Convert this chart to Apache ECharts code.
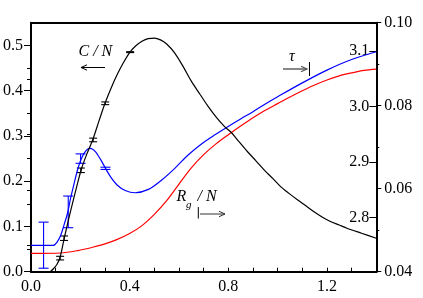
<!DOCTYPE html>
<html>
<head>
<meta charset="utf-8">
<script src="https://cdn.jsdelivr.net/npm/echarts@6/dist/echarts.min.js"></script>
<style>
html,body{margin:0;padding:0;background:#fff;}
#chart{width:423px;height:298px;}
</style>
</head>
<body>
<div id="chart"></div>
<script>
// ---- data ----
const cnX = [0.078,0.09,0.105,0.118,0.134,0.15,0.17,0.19,0.205,0.225,0.25,0.275,0.30,0.325,0.35,0.375,0.40,0.425,0.45,0.475,0.50,0.525,0.55,0.583,0.617,0.65,0.685,0.718,0.75,0.784,0.811,0.845,0.878,0.912,0.945,0.98,1.012,1.046,1.08,1.113,1.146,1.18,1.214,1.25,1.281,1.34,1.40];
const cnY = [0.0,0.006,0.016,0.032,0.072,0.11,0.155,0.198,0.228,0.258,0.291,0.332,0.372,0.406,0.436,0.462,0.484,0.499,0.509,0.515,0.516,0.512,0.503,0.483,0.453,0.421,0.392,0.365,0.342,0.321,0.308,0.286,0.265,0.245,0.225,0.206,0.188,0.173,0.159,0.146,0.133,0.121,0.111,0.103,0.096,0.085,0.074];

const tauX = [0,0.09,0.107,0.121,0.134,0.148,0.161,0.175,0.188,0.201,0.215,0.228,0.241,0.261,0.282,0.302,0.322,0.349,0.382,0.422,0.476,0.530,0.583,0.637,0.691,0.744,0.798,0.85,0.90,0.95,1.0,1.1,1.2,1.3,1.4];
const tauY = [2.750,2.750,2.757,2.769,2.787,2.808,2.836,2.862,2.885,2.903,2.916,2.923,2.925,2.919,2.905,2.889,2.874,2.859,2.849,2.845,2.851,2.868,2.889,2.913,2.933,2.949,2.964,2.978,2.991,3.005,3.018,3.043,3.066,3.085,3.099];

const rgX = [0,0.12,0.19,0.25,0.30,0.35,0.40,0.45,0.50,0.55,0.60,0.65,0.70,0.75,0.80,0.85,0.90,0.95,1.00,1.05,1.10,1.15,1.20,1.25,1.30,1.35,1.40];
const rgY = [0.0444,0.0445,0.0451,0.0459,0.0467,0.0478,0.0492,0.0511,0.0538,0.0571,0.0611,0.0650,0.0682,0.0708,0.0730,0.0751,0.0771,0.0789,0.0805,0.0821,0.0836,0.0850,0.0862,0.0872,0.0879,0.0885,0.0888];

// error bars: x, low, high
const cnErrX  = [0.118,0.134,0.202,0.252,0.301,0.402];
const cnErrLo = [0.026,0.069,0.219,0.287,0.369,0.484];
const cnErrHi = [0.034,0.079,0.229,0.295,0.375,0.486];

const tauErrX  = [0.051,0.151,0.201,0.302];
const tauErrLo = [2.709,2.782,2.898,2.887];
const tauErrHi = [2.792,2.839,2.915,2.891];

// axis ticks / labels
const xTicks = [0,0.1,0.2,0.3,0.4,0.5,0.6,0.7,0.8,0.9,1.0,1.1,1.2,1.3,1.4];
const xLabels = [0,0.4,0.8,1.2];
const leftMajor = [0,0.1,0.2,0.3,0.4,0.5];
const leftMinor = [0.05,0.15,0.25,0.35,0.45];
const tauMajor = [2.8,2.9,3.0,3.1];
const tauMinor = [2.75,2.85,2.95,3.05];
const rgMajor = [0.04,0.06,0.08,0.10];
const rgMinor = [0.05,0.07,0.09];

// ---- build ----
const zip = (a,b) => a.map((v,i)=>[v,b[i]]);
const zip3 = (a,b,c) => a.map((v,i)=>[v,b[i],c[i]]);
const FONT = 'Liberation Serif';

function errRender(halfW){
  return function(params, api){
    const x = api.value(0), lo = api.value(1), hi = api.value(2);
    const p1 = api.coord([x, lo]), p2 = api.coord([x, hi]);
    const color = api.visual('color');
    const st = {stroke: color, lineWidth: 1.1};
    return {type:'group', children:[
      {type:'line', shape:{x1:p1[0],y1:p1[1],x2:p2[0],y2:p2[1]}, style:st},
      {type:'line', shape:{x1:p1[0]-halfW,y1:p1[1],x2:p1[0]+halfW,y2:p1[1]}, style:st},
      {type:'line', shape:{x1:p2[0]-halfW,y1:p2[1],x2:p2[0]+halfW,y2:p2[1]}, style:st}
    ]};
  };
}

const axisLineStyle = {color:'#000', width:2};
const labelBase = {color:'#000', fontFamily:FONT, fontSize:16};

function yAx(o){
  return Object.assign({type:'value', splitLine:{show:false}, axisLine:{show:false}, axisLabel:{show:false}, axisTick:{show:false}}, o);
}
function annot(x, y, text, size){
  return {type:'text', x:x, y:y, style:{text:text, fontStyle:'italic', fontSize:size, fontFamily:FONT, fill:'#000', align:'left', verticalAlign:'middle'}};
}

const option = {
  animation:false,
  backgroundColor:'#fff',
  textStyle:{fontFamily:FONT},
  grid:{left:28.3, right:46.7, top:22.7, bottom:26.3, containLabel:false},
  xAxis:[
    {type:'value', min:0, max:1.4, interval:0.1, position:'bottom',
     axisLine:{show:true, onZero:false, lineStyle:axisLineStyle},
     axisTick:{show:true, inside:true, length:4, lineStyle:{color:'#000', width:1}, customValues:xTicks},
     axisLabel:Object.assign({margin:7, customValues:xLabels, formatter:v=>v.toFixed(1)}, labelBase),
     splitLine:{show:false}},
    {type:'value', min:0, max:1.4, position:'top',
     axisLine:{show:true, onZero:false, lineStyle:axisLineStyle},
     axisTick:{show:false}, axisLabel:{show:false}, splitLine:{show:false}}
  ],
  yAxis:[
    yAx({min:0, max:0.55, position:'left',
      axisLine:{show:true, onZero:false, lineStyle:axisLineStyle},
      axisTick:{show:true, length:7, lineStyle:{color:'#000', width:1}, customValues:leftMajor},
      axisLabel:Object.assign({show:true, margin:8, customValues:leftMajor, formatter:v=>v.toFixed(1)}, labelBase)}),
    yAx({min:0, max:0.55, position:'left',
      axisTick:{show:true, length:4, lineStyle:{color:'#000', width:1}, customValues:leftMinor}}),
    yAx({min:2.7027, max:3.1514, position:'right',
      axisLine:{show:true, onZero:false, lineStyle:axisLineStyle},
      axisTick:{show:true, inside:true, length:7, lineStyle:{color:'#000', width:1}, customValues:tauMajor},
      axisLabel:Object.assign({show:true, inside:true, margin:7, customValues:tauMajor, formatter:v=>v.toFixed(1)}, labelBase)}),
    yAx({min:2.7027, max:3.1514, position:'right',
      axisTick:{show:true, inside:true, length:4, lineStyle:{color:'#000', width:1}, customValues:tauMinor}}),
    yAx({min:0.04, max:0.10, position:'right',
      axisTick:{show:true, length:5, lineStyle:{color:'#000', width:1}, customValues:rgMajor},
      axisLabel:Object.assign({show:true, margin:8, customValues:rgMajor, formatter:v=>v.toFixed(2)}, labelBase)}),
    yAx({min:0.04, max:0.10, position:'right',
      axisTick:{show:true, length:3, lineStyle:{color:'#000', width:1}, customValues:rgMinor}})
  ],
  series:[
    {type:'line', name:'Rg/N', xAxisIndex:0, yAxisIndex:4, data:zip(rgX,rgY), showSymbol:false, smooth:0.3,
     lineStyle:{color:'#ff0000', width:1.2}, itemStyle:{color:'#ff0000'}},
    {type:'line', name:'tau', xAxisIndex:0, yAxisIndex:2, data:zip(tauX,tauY), showSymbol:false, smooth:0.3,
     lineStyle:{color:'#0000ff', width:1.2}, itemStyle:{color:'#0000ff'}},
    {type:'line', name:'C/N', xAxisIndex:0, yAxisIndex:0, data:zip(cnX,cnY), showSymbol:false, smooth:0.3,
     lineStyle:{color:'#000', width:1.2}, itemStyle:{color:'#000'}},
    {type:'custom', name:'tauErr', xAxisIndex:0, yAxisIndex:2, data:zip3(tauErrX,tauErrLo,tauErrHi),
     encode:{x:0, y:[1,2]}, itemStyle:{color:'#0000ff'}, renderItem:errRender(5)},
    {type:'custom', name:'cnErr', xAxisIndex:0, yAxisIndex:0, data:zip3(cnErrX,cnErrLo,cnErrHi),
     encode:{x:0, y:[1,2]}, itemStyle:{color:'#000'}, renderItem:errRender(4)}
  ],
  graphic:[
    annot(78.5, 52, 'C / N', 16),
    {type:'line', shape:{x1:81,y1:67.5,x2:105,y2:67.5}, style:{stroke:'#000', lineWidth:1}},
    {type:'polyline', shape:{points:[[87,64.8],[81,67.5],[87,70.2]]}, style:{stroke:'#000', lineWidth:1, fill:null}},

    annot(289, 56.5, 'τ', 16),
    {type:'line', shape:{x1:283,y1:69,x2:307,y2:69}, style:{stroke:'#555', lineWidth:1.4}},
    {type:'polyline', shape:{points:[[301,66.3],[307,69],[301,71.7]]}, style:{stroke:'#555', lineWidth:1.2, fill:null}},
    {type:'line', shape:{x1:309.5,y1:62,x2:309.5,y2:76}, style:{stroke:'#000', lineWidth:1}},

    annot(176.5, 196.4, 'R', 16),
    annot(186, 205.4, 'g', 11),
    annot(197.5, 196.4, '/ N', 16),
    {type:'line', shape:{x1:198.3,y1:207,x2:198.3,y2:218.5}, style:{stroke:'#000', lineWidth:1}},
    {type:'line', shape:{x1:200,y1:214,x2:225,y2:214}, style:{stroke:'#333', lineWidth:1}},
    {type:'polyline', shape:{points:[[219,211.3],[225,214],[219,216.7]]}, style:{stroke:'#333', lineWidth:1, fill:null}}
  ]
};

const chart = echarts.init(document.getElementById('chart'), null, {renderer:'canvas', width:423, height:298});
chart.setOption(option);
</script>
</body>
</html>
